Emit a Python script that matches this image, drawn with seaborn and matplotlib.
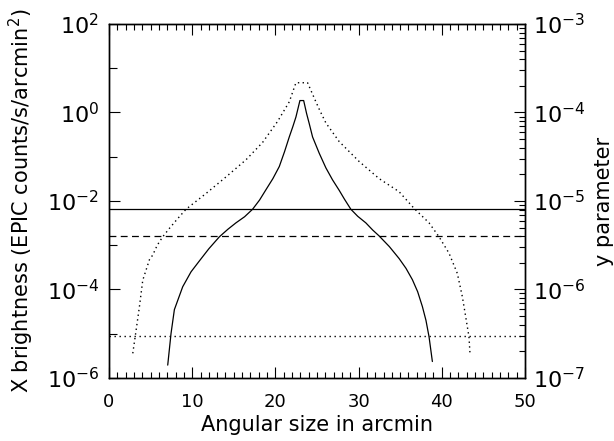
import numpy as np
import pandas as pd
import matplotlib
matplotlib.use("Agg")
import matplotlib.pyplot as plt
from matplotlib.ticker import MultipleLocator, FixedLocator, NullFormatter
import seaborn as sns

# profile (angle in arcmin, brightness)
solid_x = [7.06, 7.46, 7.86, 8.86, 9.86, 10.86, 12.0, 13.27, 14.3, 15.26, 16.3, 17.26,
           18.1, 18.87, 19.7, 20.47, 21.1, 21.67, 22.1, 22.47, 22.95, 23.40, 23.75,
           24.07, 24.47, 25.27, 26.07, 26.87, 27.67, 28.3, 29.07, 29.9, 30.87, 31.7,
           32.47, 33.7, 34.87, 35.7, 36.47, 37.1, 37.67, 38.1, 38.47, 38.87]
solid_y = [1.95e-6, 1.02e-5, 3.5e-5, 1.15e-4, 2.5e-4, 4.4e-4, 8.3e-4, 1.55e-3, 2.3e-3,
           3.2e-3, 4.4e-3, 6.5e-3, 1.05e-2, 1.8e-2, 3.2e-2, 6.0e-2, 0.13, 0.28, 0.48,
           0.79, 1.86, 1.86, 0.95, 0.56, 0.28, 0.12, 0.056, 0.030, 0.0174, 0.011,
           6.5e-3, 4.5e-3, 3.2e-3, 2.2e-3, 1.62e-3, 9.3e-4, 5.0e-4, 3.0e-4, 1.66e-4,
           8.9e-5, 4.1e-5, 2.0e-5, 8.5e-6, 2.35e-6]

dotted_x = [2.86, 3.26, 3.66, 4.06, 4.86, 5.26, 5.8, 6.46, 7.26, 8.26, 9.26, 11.67,
            14.07, 16.46, 18.46, 20.27, 21.67, 22.47, 23.87, 24.87, 25.33, 26.07,
            27.67, 30.07, 32.47, 34.87, 36.67, 38.47, 39.67, 40.87, 41.87, 42.47,
            42.87, 43.27, 43.39]
dotted_y = [3.6e-6, 1.2e-5, 4.1e-5, 1.62e-4, 4.7e-4, 6.0e-4, 1.0e-3, 1.55e-3, 2.4e-3,
            4.0e-3, 6.5e-3, 1.48e-2, 3.5e-2, 8.5e-2, 0.21, 0.63, 1.74, 4.7, 4.7, 1.74,
            1.12, 0.58, 0.22, 7.8e-2, 3.2e-2, 1.62e-2, 6.8e-3, 3.2e-3, 1.55e-3, 6.6e-4,
            2.3e-4, 6.9e-5, 2.45e-5, 8.5e-6, 3.6e-6]

# horizontal levels
level_solid = 6.5e-3
level_dashed = 1.6e-3
level_dotted = 8.9e-6

# right axis ticks (y parameter)
right_major = [1e-7, 1e-6, 1e-5, 1e-4, 1e-3]
right_minor = [m * 10.0 ** e for e in range(-7, -3) for m in range(2, 10)]

sns.set_theme(style="ticks", rc={'text.color': 'black', 'axes.labelcolor': 'black',
                                 'xtick.color': 'black', 'ytick.color': 'black',
                                 'xtick.direction': 'in', 'ytick.direction': 'in'})
plt.rcParams['font.family'] = ['DejaVu Sans']

solid_df = pd.DataFrame({'angle': solid_x, 'brightness': solid_y})
dotted_df = pd.DataFrame({'angle': dotted_x, 'brightness': dotted_y})

fig, ax = plt.subplots(figsize=(6.14, 4.41), dpi=100)
fig.subplots_adjust(left=0.1775, right=0.855, bottom=0.143, top=0.9456)

sns.lineplot(data=solid_df, x='angle', y='brightness', ax=ax, color='black',
             linewidth=0.9, estimator=None)
sns.lineplot(data=dotted_df, x='angle', y='brightness', ax=ax, color='black',
             linewidth=1.0, linestyle=(0, (1, 2.4)), estimator=None)

ax.axhline(level_solid, color='black', linewidth=0.9)
ax.axhline(level_dashed, color='black', linewidth=0.9, linestyle=(0, (5.5, 3.5)))
ax.axhline(level_dotted, color='black', linewidth=1.0, linestyle=(0, (1, 2.6)))

ax.set_yscale('log')
ax.set_xlim(0, 50)
ax.set_ylim(1e-6, 1e2)
ax.xaxis.set_major_locator(MultipleLocator(10))
ax.xaxis.set_minor_locator(MultipleLocator(1))
ax.yaxis.set_major_locator(FixedLocator([1e-6, 1e-4, 1e-2, 1e0, 1e2]))
ax.yaxis.set_minor_locator(FixedLocator([1e-5, 1e-3, 1e-1, 1e1]))
ax.yaxis.set_minor_formatter(NullFormatter())

ax.tick_params(axis='x', which='major', top=True, labelsize=13, pad=11, length=8, width=0.8)
ax.tick_params(axis='x', which='minor', top=True, length=4, width=0.8)
ax.tick_params(axis='y', which='major', labelsize=16, pad=7, length=8, width=0.8)
ax.tick_params(axis='y', which='minor', length=6, width=0.8)

ax.set_xlabel('Angular size in arcmin', fontsize=15, labelpad=3)
ax.set_ylabel('X brightness (EPIC counts/s/arcmin$^2$)', fontsize=15, labelpad=8)

# right axis: y parameter
ax2 = ax.twinx()
ax2.set_yscale('log')
ax2.set_ylim(1e-7, 1e-3)
ax2.set_yticks(right_major)
ax2.set_yticks(right_minor, minor=True)
ax2.yaxis.set_minor_formatter(NullFormatter())
ax2.tick_params(axis='y', which='major', labelsize=16, pad=6, length=8, width=0.8)
ax2.tick_params(axis='y', which='minor', length=4, width=0.8, color='black')
ax2.set_ylabel('y parameter', fontsize=15, labelpad=6)

for spine in list(ax.spines.values()) + list(ax2.spines.values()):
    spine.set_linewidth(1.0)
    spine.set_color('black')

plt.savefig('out.png', dpi=100)
